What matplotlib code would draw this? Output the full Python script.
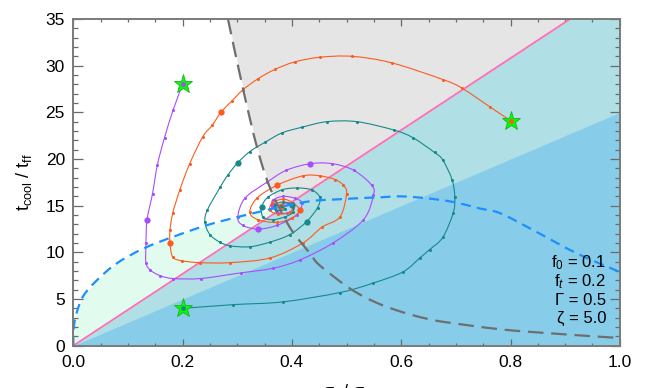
import numpy as np
import matplotlib
matplotlib.use('Agg')
import matplotlib.pyplot as plt
from matplotlib.ticker import MultipleLocator
from matplotlib.path import Path
from matplotlib.patches import PathPatch

plt.rcParams['font.family'] = ['Liberation Sans', 'DejaVu Sans']
plt.rcParams['mathtext.fontset'] = 'custom'
plt.rcParams['mathtext.rm'] = 'Liberation Sans'
plt.rcParams['mathtext.it'] = 'Liberation Sans:italic'

# boundary lines (slopes)
pink_slope = 38.5
blue_slope = 25.0

# grey dashed boundary
grey_x = [0.283, 0.311, 0.336, 0.360, 0.396, 0.433, 0.451, 0.507, 0.555, 0.602,
          0.646, 0.684, 0.781, 0.872, 0.980, 1.000]
grey_y = [35.0, 27.4, 21.3, 16.9, 12.7, 9.9, 8.6, 6.1, 4.6, 3.6,
          2.9, 2.5, 1.76, 1.33, 0.90, 0.85]

# blue dashed boundary
bdash_x = [0.0, 0.001, 0.006, 0.018, 0.043, 0.079, 0.128, 0.189, 0.268, 0.415,
           0.490, 0.561, 0.600, 0.646, 0.695, 0.744, 0.781, 0.841, 0.921, 1.0]
bdash_y = [0.0, 2.0, 3.5, 5.3, 7.0, 8.8, 10.4, 11.8, 13.3, 15.3,
           15.7, 15.9, 16.0, 15.8, 15.4, 14.7, 14.2, 12.4, 9.9, 7.9]

# trajectories
purple_x = [0.200, 0.183, 0.167, 0.154, 0.145, 0.135, 0.133, 0.133, 0.141, 0.159,
            0.183, 0.233, 0.306, 0.366, 0.415, 0.475, 0.531, 0.549, 0.546, 0.513,
            0.474, 0.434, 0.390, 0.354, 0.314, 0.301, 0.310, 0.338, 0.373, 0.409,
            0.418, 0.405, 0.384, 0.365, 0.365, 0.373, 0.391, 0.402, 0.393, 0.380]
purple_y = [28.0, 25.3, 22.3, 19.4, 16.3, 13.5, 11.0, 8.9, 8.1, 7.5,
            7.2, 7.2, 7.8, 8.3, 9.2, 11.0, 13.5, 16.1, 17.2, 18.8,
            19.5, 19.5, 18.8, 17.5, 15.8, 13.8, 12.9, 12.5, 12.9, 14.0,
            15.3, 15.8, 16.0, 15.6, 15.1, 14.3, 14.2, 14.7, 15.3, 15.0]
purple_big = [5, 21, 27, 34]

orange_x = [0.800, 0.762, 0.711, 0.677, 0.583, 0.510, 0.451, 0.405, 0.369, 0.338,
            0.310, 0.290, 0.270, 0.254, 0.237, 0.213, 0.195, 0.182, 0.177, 0.177,
            0.182, 0.199, 0.232, 0.287, 0.360, 0.420, 0.455, 0.488, 0.500, 0.494,
            0.479, 0.451, 0.420, 0.373, 0.336, 0.323, 0.338, 0.373, 0.400, 0.414,
            0.402, 0.384, 0.364, 0.360, 0.375, 0.397, 0.400, 0.380]
orange_y = [24.1, 25.6, 27.6, 28.5, 30.3, 31.0, 30.9, 30.4, 29.6, 28.6,
            27.4, 26.2, 25.0, 23.6, 22.4, 19.5, 16.7, 14.2, 12.4, 11.0,
            9.5, 9.1, 8.9, 8.9, 9.4, 11.0, 12.7, 13.8, 16.3, 17.2,
            17.8, 18.2, 18.2, 17.2, 15.8, 14.3, 13.5, 13.2, 13.7, 14.5,
            15.3, 15.7, 15.3, 14.5, 14.1, 14.3, 15.0, 15.0]
orange_big = [12, 19, 33, 39, 47]

teal_x = [0.200, 0.293, 0.384, 0.488, 0.548, 0.603, 0.634, 0.652, 0.676, 0.695,
          0.698, 0.693, 0.676, 0.661, 0.621, 0.587, 0.519, 0.464, 0.418, 0.382,
          0.351, 0.323, 0.301, 0.283, 0.269, 0.245, 0.241, 0.250, 0.268, 0.287,
          0.323, 0.360, 0.396, 0.427, 0.447, 0.451, 0.436, 0.409, 0.382, 0.356,
          0.345, 0.347, 0.365, 0.387, 0.402, 0.400, 0.384, 0.369, 0.371, 0.387, 0.380]
teal_y = [4.0, 4.4, 4.7, 5.7, 6.7, 7.9, 9.4, 10.3, 11.6, 14.2,
          15.9, 17.8, 19.9, 20.7, 22.3, 23.1, 24.0, 24.0, 23.4, 22.8,
          21.8, 20.8, 19.6, 18.3, 17.0, 14.5, 13.2, 11.9, 11.1, 10.7,
          10.6, 11.1, 11.9, 13.3, 14.8, 15.9, 16.7, 16.9, 16.7, 15.9,
          14.9, 13.8, 13.5, 13.8, 14.3, 15.1, 15.4, 15.1, 14.5, 14.6, 15.0]
teal_big = [22, 33, 40, 45]

legend_lines = ['f$_0$ = 0.1', 'f$_t$ = 0.2', '\u0393 = 0.5', '\u03b6 = 5.0']

c_purple = '#a84cff'
c_orange = '#ff5a1e'
c_teal = '#17898a'


def smooth_path(x, y):
    # Catmull-Rom through the points, drawn as cubic Bezier segments
    p = np.column_stack([x, y]).astype(float)
    ext = np.vstack([p[0], p, p[-1]])
    verts = [p[0]]
    codes = [Path.MOVETO]
    for i in range(1, len(ext) - 2):
        p0, p1, p2, p3 = ext[i - 1], ext[i], ext[i + 1], ext[i + 2]
        verts += [p1 + (p2 - p0) / 6, p2 - (p3 - p1) / 6, p2]
        codes += [Path.CURVE4] * 3
    return Path(verts, codes)


fig = plt.figure(figsize=(6.48, 3.88), dpi=100)
ax = fig.add_axes([0.1131, 0.1090, 0.8434, 0.842])
ax.set_xlim(0, 1)
ax.set_ylim(0, 35)

xs = np.linspace(0, 1, 600)
pink = pink_slope * xs
# background regions
ax.fill_between(xs, 0, np.minimum(pink, 35), color='#b0dfe5', lw=0, zorder=0)
ax.fill_between(xs, 0, blue_slope * xs, color='#87cdea', lw=0, zorder=0.5)
bd = np.interp(xs, bdash_x, bdash_y)
ax.fill_between(xs, pink, bd, where=bd > pink, interpolate=True,
                color='#e2fbef', lw=0, zorder=0.5)
gx = np.linspace(grey_x[0], 1, 600)
gy = np.interp(gx, grey_x, grey_y)
lower = np.maximum(gy, pink_slope * gx)
ax.fill_between(gx, lower, 35, where=lower < 35, interpolate=True,
                color='#e5e5e5', lw=0, zorder=0.5)

ax.plot(xs, pink, color='#ff6eb4', lw=1.3, zorder=2)

for tx, ty, c, big in [(purple_x, purple_y, c_purple, purple_big),
                       (orange_x, orange_y, c_orange, orange_big),
                       (teal_x, teal_y, c_teal, teal_big)]:
    ax.add_patch(PathPatch(smooth_path(tx, ty), fill=False, ec=c, lw=0.8, zorder=3))
    ax.plot(tx, ty, 'o', color=c, ms=2.2, mec='none', zorder=3)
    ax.plot(np.array(tx)[big], np.array(ty)[big], 'o', color=c, ms=4.5,
            mec='none', zorder=3)

ax.add_patch(PathPatch(smooth_path(grey_x, grey_y), fill=False, ec='#6e6e6e',
                       lw=1.6, ls=(0, (7, 3.5)), zorder=4))
ax.add_patch(PathPatch(smooth_path(bdash_x, bdash_y), fill=False, ec='#1e8fff',
                       lw=1.6, ls=(0, (4.5, 2.8)), zorder=4))

for tx, ty, c in [(purple_x, purple_y, c_purple), (orange_x, orange_y, c_orange),
                  (teal_x, teal_y, c_teal)]:
    ax.plot(tx[0], ty[0], marker='*', ms=14, color='#00ff00', mec='#20b020',
            mew=0.6, zorder=5)
    ax.plot(tx[0], ty[0], 'o', ms=3.5, color=c, mec='none', zorder=6)

for i, s in enumerate(legend_lines):
    ax.text(0.975, 0.253 - i * 0.057, s, transform=ax.transAxes, ha='right',
            va='center', fontsize=12, zorder=7)

ax.xaxis.set_major_locator(MultipleLocator(0.2))
ax.xaxis.set_minor_locator(MultipleLocator(0.05))
ax.yaxis.set_major_locator(MultipleLocator(5))
ax.yaxis.set_minor_locator(MultipleLocator(1))
ax.set_xticks(np.arange(0, 1.01, 0.2))
ax.set_xticklabels([f'{v:.1f}' for v in np.arange(0, 1.01, 0.2)])
ax.tick_params(axis='both', which='both', direction='in', top=True, right=True,
               color='#6a6a6a', labelsize=12.5)
ax.tick_params(axis='x', which='major', length=5, width=0.9, pad=7)
ax.tick_params(axis='x', which='minor', length=2.5, width=0.9)
ax.tick_params(axis='y', which='major', length=7, width=0.9, pad=6)
ax.tick_params(axis='y', which='minor', length=3.5, width=0.9)
for sp in ax.spines.values():
    sp.set_color('#7a7a7a')
    sp.set_linewidth(1.4)
    sp.set_zorder(8)

ax.set_ylabel('t$_{\\rm cool}$ / t$_{\\rm ff}$', fontsize=13, labelpad=8)
ax.set_xlabel('\u03c3$_{\\rm t}$ / \u03c3$_{\\rm v}$', fontsize=13, labelpad=8)

fig.savefig('out.png', dpi=100)
